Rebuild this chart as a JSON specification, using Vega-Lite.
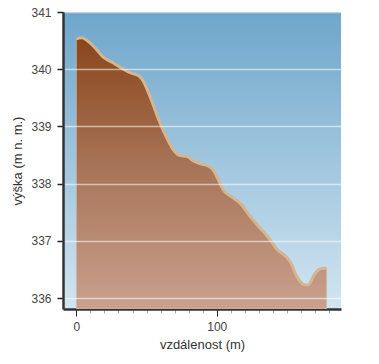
{
  "$schema": "https://vega.github.io/schema/vega-lite/v6.json",
  "width": 278,
  "height": 297,
  "autosize": "none",
  "padding": {"left": 63, "top": 12, "right": 38, "bottom": 55},
  "background": "white",
  "view": {
    "stroke": null,
    "fill": {"gradient": "linear", "x1": 0, "y1": 0, "x2": 0, "y2": 1,
      "stops": [{"offset": 0, "color": "#6ea6cb"}, {"offset": 1, "color": "#d2e5f1"}]}
  },
  "data": {"values": [
    {"d": 0, "h": 340.53}, {"d": 3.8, "h": 340.55}, {"d": 9.8, "h": 340.46},
    {"d": 14.5, "h": 340.34}, {"d": 19.2, "h": 340.21}, {"d": 26.4, "h": 340.11},
    {"d": 33.5, "h": 340.0}, {"d": 38.2, "h": 339.94}, {"d": 44.2, "h": 339.89},
    {"d": 47.7, "h": 339.79}, {"d": 52.5, "h": 339.52}, {"d": 59.6, "h": 339.06},
    {"d": 64.4, "h": 338.8}, {"d": 69.1, "h": 338.59}, {"d": 73.9, "h": 338.49},
    {"d": 78.6, "h": 338.48}, {"d": 83.1, "h": 338.4}, {"d": 88.1, "h": 338.35},
    {"d": 93.8, "h": 338.31}, {"d": 97.4, "h": 338.24}, {"d": 101.1, "h": 338.07},
    {"d": 104.7, "h": 337.89}, {"d": 111.8, "h": 337.75}, {"d": 116.6, "h": 337.66},
    {"d": 123.7, "h": 337.43}, {"d": 132.1, "h": 337.19}, {"d": 138.0, "h": 337.02},
    {"d": 142.7, "h": 336.86}, {"d": 149.9, "h": 336.71}, {"d": 152.2, "h": 336.64},
    {"d": 157.0, "h": 336.38}, {"d": 161.7, "h": 336.24}, {"d": 165.2, "h": 336.23},
    {"d": 168.8, "h": 336.38}, {"d": 172.4, "h": 336.49}, {"d": 175.9, "h": 336.52},
    {"d": 178.3, "h": 336.52}
  ]},
  "encoding": {
    "x": {"field": "d", "type": "quantitative",
      "scale": {"domain": [-9.5, 188.5], "nice": false, "zero": false},
      "axis": {
        "title": "vzdálenost (m)", "values": [0,10,20,30,40,50,60,70,80,90,100,110,120,130,140,150,160,170,180],
        "labelExpr": "datum.value % 100 === 0 ? datum.label : ''",
        "grid": false, "domainColor": "#333333", "domainWidth": 2.5,
        "tickColor": {"condition": {"test": "datum.value % 100 === 0", "value": "#222222"}, "value": "#aaaaaa"},
        "tickSize": {"condition": {"test": "datum.value % 100 === 0", "value": 7}, "value": 4},
        "tickWidth": 1,
        "labelFont": "Liberation Sans", "labelFontSize": 12, "labelColor": "#444444", "labelPadding": 5,
        "titleFont": "Liberation Sans", "titleFontSize": 13, "titleFontWeight": "normal", "titleColor": "#333333", "titlePadding": 6
      }},
    "y": {"field": "h", "type": "quantitative",
      "scale": {"domain": [335.81, 341], "nice": false, "zero": false},
      "axis": {
        "title": "výška (m n. m.)", "values": [336, 337, 338, 339, 340, 341], "format": "d",
        "grid": true, "gridColor": "#ffffff", "gridOpacity": 0.55, "gridWidth": 1.5,
        "zindex": 1,
        "domainColor": "#333333", "domainWidth": 2.5,
        "tickColor": "#222222", "tickSize": 6, "tickWidth": 1.5,
        "labelFont": "Liberation Sans", "labelFontSize": 12, "labelColor": "#444444", "labelPadding": 6,
        "titleFont": "Liberation Sans", "titleFontSize": 13, "titleFontWeight": "normal", "titleColor": "#333333", "titlePadding": 6
      }}
  },
  "layer": [
    {"mark": {"type": "area", "interpolate": "monotone", "clip": true,
      "fill": {"gradient": "linear", "x1": 0, "y1": 0, "x2": 0, "y2": 1,
        "stops": [{"offset": 0, "color": "#8a461a"}, {"offset": 0.5, "color": "#a9765a"}, {"offset": 1, "color": "#caa18e"}]},
      "stroke": "#d8bfa6", "strokeWidth": 1, "strokeOpacity": 0.6},
     "encoding": {"y2": {"datum": 335.81}}},
    {"mark": {"type": "line", "interpolate": "monotone", "stroke": "#d4b58f", "strokeWidth": 3}}
  ]
}
